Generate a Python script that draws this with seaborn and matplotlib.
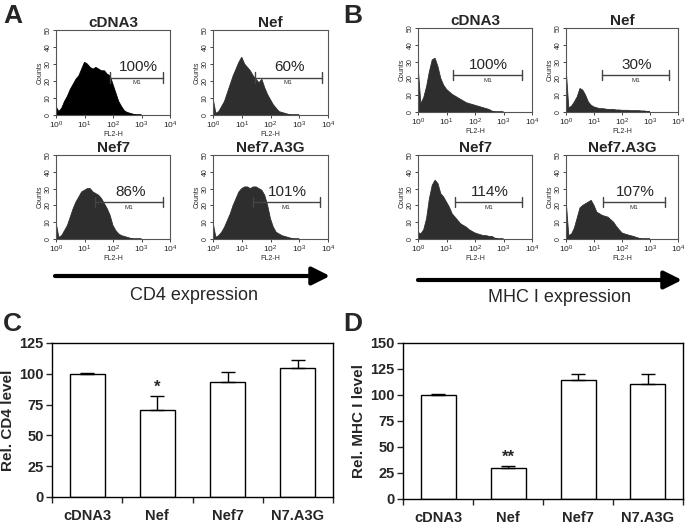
import matplotlib
matplotlib.use("Agg")
import matplotlib.pyplot as plt
import seaborn as sns
import numpy as np
import pandas as pd

# flow histograms: FL2-H channel (log10 decades) and counts
FL2_LOG = [0.0, 0.1, 0.2, 0.3, 0.4, 0.5, 0.6, 0.7, 0.8, 0.9,
           1.0, 1.1, 1.2, 1.3, 1.4, 1.5, 1.6, 1.7, 1.8, 1.9,
           2.0, 2.1, 2.2, 2.3, 2.4, 2.5, 2.6, 2.7, 2.8, 2.9, 3.0]

A_CDNA3 = [5, 2, 4, 8, 11, 15, 18, 21, 23, 27, 31, 30, 28, 27, 28, 27, 26, 26, 24, 23,
           18, 13, 8, 5, 2.5, 1.5, 1, 0.5, 0, 0, 0]
A_NEF = [10, 1, 2, 5, 8, 13, 18, 23, 27, 31, 34, 30, 28, 26, 23, 21, 19, 21, 16, 12,
         9, 6, 4, 2, 1.5, 1, 0.5, 0, 0, 0, 0]
A_NEF7 = [10, 1, 2, 5, 8, 13, 18, 22, 25, 28, 29, 30, 30, 28, 27, 26, 24, 21, 18, 14,
          8, 5, 3, 2, 1.5, 1, 0.5, 0, 0, 0, 0]
A_NEF7A3G = [10, 1, 2, 4, 7, 11, 15, 20, 24, 28, 30, 31, 31, 30, 31, 31, 30, 29, 26, 20,
             12, 7, 4, 3, 2, 1.5, 1, 0.5, 0, 0, 0]

B_CDNA3 = [28, 5, 8.5, 15, 24, 31, 32, 27, 20, 16, 13.5, 12, 10.5, 9.5, 8.5, 7.5, 6.5, 5.5, 5, 4.5,
           4, 3.5, 3, 2.5, 2, 1.5, 0.5, 0, 0, 0, 0]
B_NEF = [27, 2.5, 3.5, 6, 9, 14, 13, 10, 6, 4, 3, 2.5, 2, 2, 1.8, 1.5, 1.5, 1.5, 1.2, 1.2,
         1, 1, 1, 0.8, 0.8, 0.8, 0.8, 0.6, 0.6, 0.3, 0]
B_NEF7 = [4, 3, 5.5, 12, 24, 32, 35, 33, 27, 25, 22, 19, 15, 13, 11, 9, 8, 7, 5.5, 4.5,
          3.6, 3, 2.5, 2, 2, 1.5, 1.5, 0.5, 0, 0, 0]
B_NEF7A3G = [24, 2, 3, 6.5, 12.5, 18.5, 20, 21, 22, 23, 20, 16, 15, 14, 13.5, 13, 11.5, 10, 7.5, 5.5,
             3.6, 3, 2.5, 2, 1.6, 1, 0.5, 0, 0, 0, 0]

HIST_TITLES = ["cDNA3", "Nef", "Nef7", "Nef7.A3G"]
A_PERCENT = ["100%", "60%", "86%", "101%"]
B_PERCENT = ["100%", "30%", "114%", "107%"]
A_GATE_LO = [1.9, 1.45, 1.38, 1.39]
A_GATE_HI = [3.76, 3.78, 3.76, 3.71]
B_GATE_LO = [1.22, 1.3, 1.3, 1.31]
B_GATE_HI = [3.65, 3.68, 3.65, 3.53]

# bar charts
BAR_LABELS = ["cDNA3", "Nef", "Nef7", "N7.A3G"]
CD4_LEVEL = [100, 71, 93.5, 105]
CD4_ERR = [0.3, 11, 8, 6.5]
CD4_STARS = ["", "*", "", ""]
MHC_LEVEL = [100, 29.5, 114, 110.5]
MHC_ERR = [0.5, 2, 6, 10]
MHC_STARS = ["", "**", "", ""]

sns.set_style("ticks")
plt.rcParams['font.family'] = ['Liberation Sans', 'DejaVu Sans']
plt.rcParams['mathtext.fontset'] = 'custom'
plt.rcParams['mathtext.rm'] = 'Liberation Sans'

W, H = 685, 524
fig = plt.figure(figsize=(W / 100, H / 100), dpi=100)


def add_ax(l, t, r, b):
    return fig.add_axes([l / W, 1 - b / H, (r - l) / W, (b - t) / H])


def flow_hist(ax, counts, title, pct, lo, hi, color):
    x = np.power(10.0, np.array(FL2_LOG))
    y = np.array(counts, dtype=float)
    # closed silhouette down to the baseline
    px = np.concatenate([[x[0]], x, [x[-1]]])
    py = np.concatenate([[0.0], y, [0.0]])
    ax.fill(px, py, facecolor=color, edgecolor=color, lw=0.6, zorder=2)
    ax.set_xscale('log')
    ax.set_xlim(1, 1e4)
    ax.set_ylim(0, 50)
    ax.set_yticks([0, 10, 20, 30, 40, 50])
    ax.set_xticks([1, 10, 100, 1000, 10000])
    for s in ax.spines.values():
        s.set_linewidth(0.8)
        s.set_color('#555555')
        s.set_visible(True)
    ax.tick_params(axis='y', labelsize=5, length=2, width=0.6, pad=1, labelrotation=90)
    ax.tick_params(axis='x', which='major', labelsize=6, length=2.5, width=0.6, pad=1)
    ax.tick_params(axis='x', which='minor', length=1.5, width=0.5)
    for lab in ax.get_yticklabels():
        lab.set_va('center')
    ax.set_xlabel("FL2-H", fontsize=5, labelpad=0)
    ax.set_ylabel("Counts", fontsize=5, labelpad=1)
    ax.set_title(title, fontsize=11, fontweight='bold', pad=2)
    # M1 gate marker
    g0, g1 = 10 ** lo, 10 ** hi
    ax.plot([g0, g1], [22, 22], color='#444444', lw=1, zorder=3)
    ax.plot([g0, g0], [19, 25], color='#444444', lw=1, zorder=3)
    ax.plot([g1, g1], [19, 25], color='#444444', lw=1, zorder=3)
    ax.text(10 ** ((lo + hi) / 2), 20.5, "M1", fontsize=4.5, ha='center', va='top', color='#333333')
    ax.text(10 ** ((lo + hi) / 2 + 0.05), 24, pct, fontsize=11, ha='center', va='bottom')


A_DATA = [A_CDNA3, A_NEF, A_NEF7, A_NEF7A3G]
B_DATA = [B_CDNA3, B_NEF, B_NEF7, B_NEF7A3G]
A_BOX = [(56, 30, 170, 115), (213, 30, 328, 115), (56, 155, 170, 239), (213, 155, 328, 239)]
B_BOX = [(418, 28, 532, 112), (566, 28, 678, 112), (418, 155, 532, 239), (566, 155, 678, 239)]

for i in range(4):
    ax = add_ax(*A_BOX[i])
    col = 'black' if i == 0 else '#2e2e2e'
    flow_hist(ax, A_DATA[i], HIST_TITLES[i], A_PERCENT[i], A_GATE_LO[i], A_GATE_HI[i], col)
    ax = add_ax(*B_BOX[i])
    flow_hist(ax, B_DATA[i], HIST_TITLES[i], B_PERCENT[i], B_GATE_LO[i], B_GATE_HI[i], '#2e2e2e')

# expression arrows
arrow_kw = dict(arrowstyle='-|>,head_length=0.9,head_width=0.45', lw=3, color='black',
                shrinkA=0, shrinkB=0, mutation_scale=12)
fig.add_artist(matplotlib.patches.FancyArrowPatch((55 / W, 1 - 276 / H), (330 / W, 1 - 276 / H),
                                                   transform=fig.transFigure, **arrow_kw))
fig.add_artist(matplotlib.patches.FancyArrowPatch((418 / W, 1 - 280 / H), (682 / W, 1 - 280 / H),
                                                   transform=fig.transFigure, **arrow_kw))
fig.text(194 / W, 1 - 295 / H, "CD4 expression", fontsize=13, ha='center', va='center')
fig.text(559 / W, 1 - 297 / H, "MHC I expression", fontsize=13, ha='center', va='center')


def bar_panel(ax, vals, errs, stars, ylabel, ymax):
    df = pd.DataFrame({'group': BAR_LABELS, 'level': vals})
    sns.barplot(data=df, x='group', y='level', ax=ax, color='white', edgecolor='black',
                linewidth=1, width=0.5, errorbar=None)
    ax.errorbar(range(len(vals)), vals, yerr=[np.zeros(len(vals)), errs], fmt='none',
                ecolor='black', elinewidth=1, capsize=5, capthick=1)
    for i in range(len(vals)):
        if stars[i]:
            ax.text(i, vals[i] + errs[i] + 1, stars[i], ha='center', va='bottom',
                    fontsize=12, fontweight='bold')
    ax.set_xlim(-0.5, len(vals) - 0.5)
    ax.set_ylim(0, ymax)
    ax.set_yticks(range(0, ymax + 1, 25))
    ax.set_xticks([k - 0.5 for k in range(len(vals) + 1)], minor=True)
    ax.tick_params(axis='x', which='major', length=0, pad=9, labelsize=10.5)
    ax.tick_params(axis='x', which='minor', length=4, width=1, direction='out')
    ax.tick_params(axis='y', length=4, width=1, direction='out', labelsize=10.5, pad=2)
    for lab in ax.get_xticklabels() + ax.get_yticklabels():
        lab.set_fontweight('bold')
    for s in ax.spines.values():
        s.set_visible(True)
        s.set_linewidth(1)
        s.set_color('black')
    ax.set_xlabel("")
    ax.set_ylabel(ylabel, fontsize=11, fontweight='bold', labelpad=3)


axc = add_ax(52, 343, 333, 497)
bar_panel(axc, CD4_LEVEL, CD4_ERR, CD4_STARS, "Rel. CD4 level", 125)
axd = add_ax(403, 343, 683, 499)
bar_panel(axd, MHC_LEVEL, MHC_ERR, MHC_STARS, "Rel. MHC I level", 150)

# panel letters
for letter, px, py in [("A", 3, 4), ("B", 343, 4), ("C", 3, 312), ("D", 343, 312)]:
    fig.text(px / W, 1 - py / H, letter, fontsize=19, fontweight='bold', ha='left', va='top')

fig.savefig("out.png", dpi=100)
